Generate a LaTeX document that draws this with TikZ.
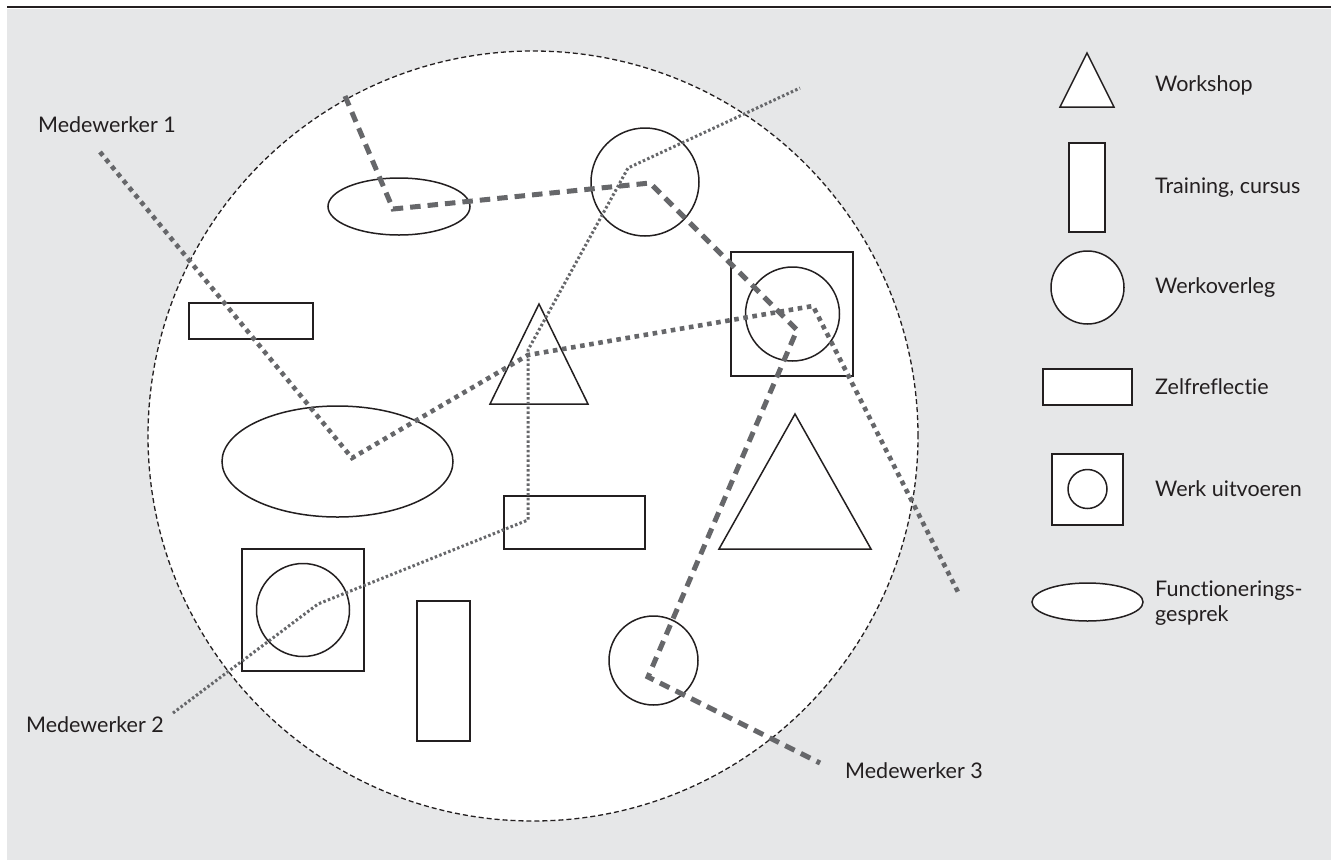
\documentclass[tikz,border=0pt]{standalone}
\usepackage{fontspec}
\setmainfont{Lato}[Ligatures=NoCommon]
\usepackage{tikz}
\usetikzlibrary{positioning,shapes.geometric}
\definecolor{PanelGrey}{HTML}{E6E7E8}
\definecolor{RouteGrey}{HTML}{66676A}
\definecolor{InkBlack}{HTML}{231F20}

\begin{document}
\begin{tikzpicture}[x=1pt,y=-1pt]
    \tikzstyle{fig}=[draw=InkBlack,fill=white,line width=1.5pt,inner sep=0pt]
    \tikzstyle{blok}=[fig,rectangle]
    \tikzstyle{rond}=[fig,circle]
    \tikzstyle{ovaal}=[fig,ellipse]
    \tikzstyle{lbl}=[anchor=base west,inner sep=0pt,text=InkBlack,
      font=\fontsize{21.5}{24}\selectfont]
    \tikzstyle{route1}=[RouteGrey,line width=4.6pt,dash pattern=on 4.6pt off 4.6pt]
    \tikzstyle{route2}=[RouteGrey,line width=3pt,dash pattern=on 2.5pt off 2.3pt]
    \tikzstyle{route3}=[RouteGrey,line width=5pt,dash pattern=on 10.5pt off 7pt]
    \useasboundingbox (0,0) rectangle (1331,860);
    \fill[PanelGrey] (7,9) rectangle (1331,860);
    \draw[InkBlack,line width=2pt] (7,7) -- (1331,7);
    \node[circle,draw=InkBlack,fill=white,line width=1.3pt,dash pattern=on 5pt off 3pt,
      minimum size=770pt] (kring) at (533,436) {};
    \node[ovaal,minimum width=142pt,minimum height=57pt] (fg1) at (399,206.5) {};
    \node[blok,minimum width=124pt,minimum height=36pt] (zr1) at (251,321) {};
    \node[rond,minimum size=108pt] (wo1) at (645,182) {};
    \node[blok,minimum width=122pt,minimum height=124pt] (wu1) at (792,314) {};
    \node[rond,minimum size=94pt] (wu1c) at (792.5,314) {};
    \draw[fig] (539,304) -- (588,404) -- (490,404) -- cycle;
    \node[blok,minimum width=141pt,minimum height=53pt] (zr2) at (574.5,522.5) {};
    \node[ovaal,minimum width=231pt,minimum height=111pt] (fg2) at (337.5,461.5) {};
    \node[blok,minimum width=122pt,minimum height=122pt] (wu2) at (303,610) {};
    \node[rond,minimum size=93pt] (wu2c) at (303,610) {};
    \node[blok,minimum width=53pt,minimum height=140pt] (tc1) at (443.5,671) {};
    \draw[fig] (795,414) -- (871,549) -- (719,549) -- cycle;
    \node[rond,minimum size=89pt] (wo2) at (653.5,660.5) {};
    \draw[fig] (1087,53) -- (1114,107) -- (1060,107) -- cycle;
    \node[blok,minimum width=36pt,minimum height=89pt] (lg2) at (1087,187.5) {};
    \node[rond,minimum size=73pt] (lg3) at (1087.5,287.5) {};
    \node[blok,minimum width=89pt,minimum height=36pt] (lg4) at (1087.5,387) {};
    \node[blok,minimum size=71pt] (lg5) at (1087.5,489.5) {};
    \node[rond,minimum size=39pt] (lg5c) at (1087.5,489) {};
    \node[ovaal,minimum width=111pt,minimum height=38pt] (lg6) at (1087.5,602) {};
    \node[lbl] (t1) at (1155,91) {Workshop};
    \node[lbl] (t2) at (1155,193) {Training, cursus};
    \node[lbl] (t3) at (1155,293) {Werkoverleg};
    \node[lbl] (t4) at (1155,394) {Zelfreflectie};
    \node[lbl] (t5) at (1155,496) {Werk uitvoeren};
    \node[lbl] (t6) at (1155,596) {Functionerings-};
    \node[lbl] (t6b) at (1155,621) {gesprek};
    \node[lbl] (m1) at (38,132) {Medewerker 1};
    \node[lbl] (m2) at (26,732) {Medewerker 2};
    \node[lbl] (m3) at (845,778) {Medewerker 3};
    \coordinate (p1a) at (100,152);
    \coordinate (p1b) at (352,458);
    \coordinate (p1c) at (528,355);
    \coordinate (p1d) at (813,306);
    \coordinate (p1e) at (958,592);
    \coordinate (p2a) at (173,713);
    \coordinate (p2b) at (318,604);
    \coordinate (p2c) at (528,520);
    \coordinate (p2d) at (528,350);
    \coordinate (p2e) at (628,168);
    \coordinate (p2f) at (800,88);
    \coordinate (p3a) at (345,96);
    \coordinate (p3b) at (393,209);
    \coordinate (p3c) at (650,183);
    \coordinate (p3d) at (797,330);
    \coordinate (p3e) at (648,677);
    \coordinate (p3f) at (820,763);
    \draw[route1] (p1a)--(p1b)--(p1c)--(p1d)--(p1e);
    \draw[route2] (p2a)--(p2b)--(p2c)--(p2d)--(p2e)--(p2f);
    \draw[route3] (p3a)--(p3b)--(p3c)--(p3d)--(p3e)--(p3f);
  \end{tikzpicture}
\end{document}
